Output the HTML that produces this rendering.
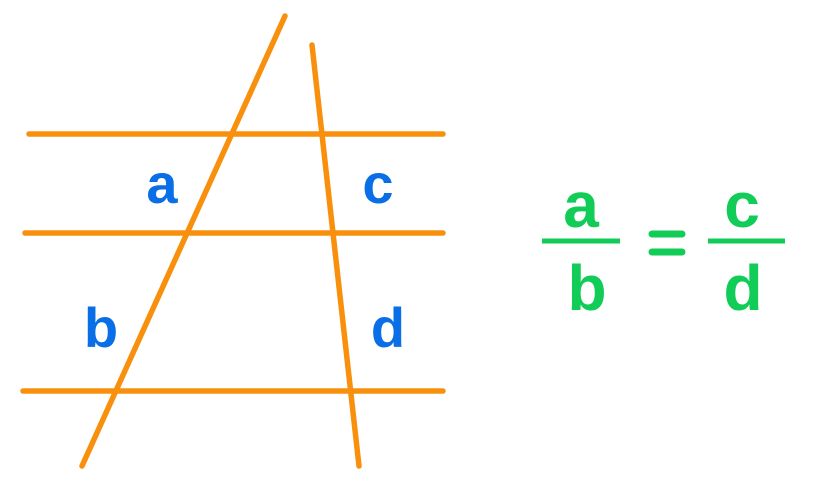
<!DOCTYPE html>
<html><head><style>html,body{margin:0;padding:0;background:#fff;}svg{display:block}</style></head>
<body>
<svg width="815" height="489" viewBox="0 0 815 489" xmlns="http://www.w3.org/2000/svg">
<g stroke="#F8900E" stroke-width="5.5" stroke-linecap="round" fill="none">
<line x1="29" y1="134" x2="443" y2="134"/>
<line x1="25" y1="233" x2="443" y2="233"/>
<line x1="23" y1="391" x2="443" y2="391"/>
<line x1="285" y1="16" x2="82" y2="466"/>
<line x1="312" y1="45" x2="359" y2="466"/>
</g>
<g font-family="Liberation Sans, sans-serif" font-weight="bold" fill="#0A6EE6" font-size="56" text-anchor="middle">
<text x="162" y="203">a</text>
<text x="378" y="203">c</text>
<text x="101" y="347">b</text>
<text x="388" y="347">d</text>
</g>
<g font-family="Liberation Sans, sans-serif" font-weight="bold" fill="#12CC58" font-size="64" text-anchor="middle">
<text x="581" y="227">a</text>
<text x="587" y="310">b</text>
<text x="742" y="227">c</text>
<text x="743" y="310">d</text>
</g>
<g stroke="#12CC58" stroke-width="5">
<line x1="542" y1="241" x2="620" y2="241"/>
<line x1="708" y1="241" x2="785" y2="241"/>
</g>
<g stroke="#12CC58" stroke-width="7" stroke-linecap="round">
<line x1="652" y1="234" x2="682" y2="234"/>
<line x1="652" y1="252" x2="682" y2="252"/>
</g>
</svg>
</body></html>
